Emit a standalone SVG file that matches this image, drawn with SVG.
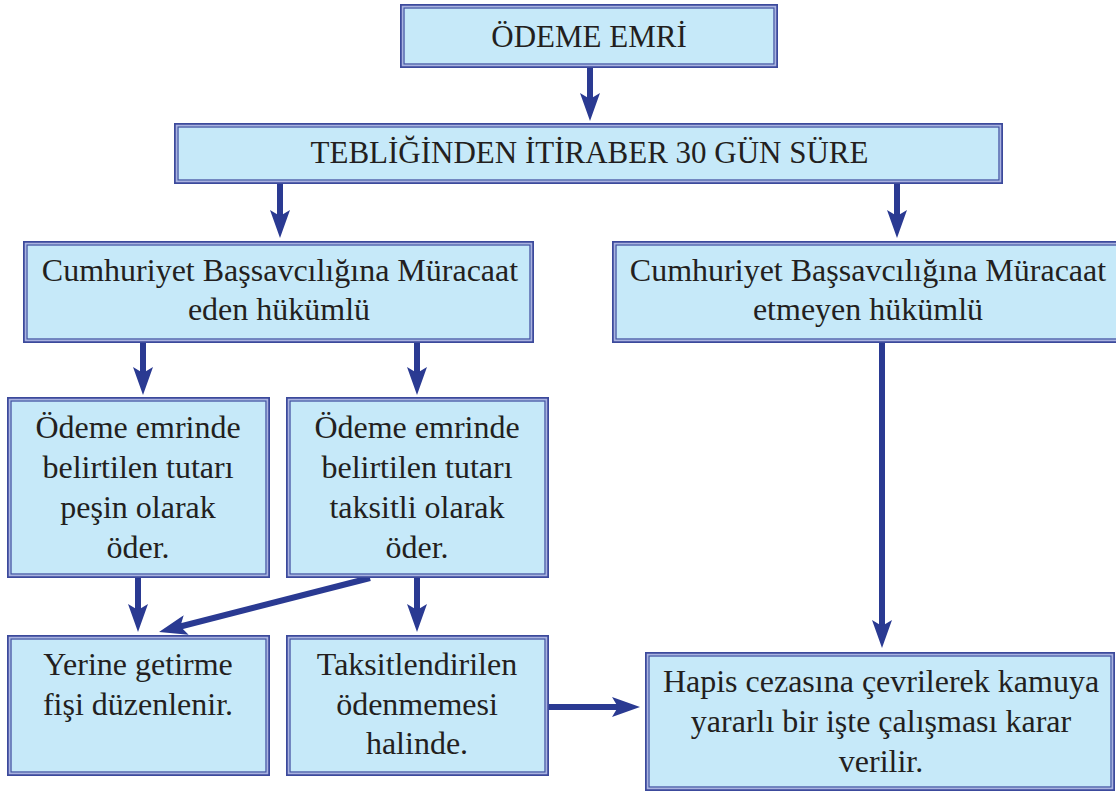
<svg xmlns="http://www.w3.org/2000/svg" width="1116" height="793" viewBox="0 0 1116 793" font-family="'Liberation Serif', Tinos, 'Times New Roman', serif">
<style>
.o{fill:#c6e9f9;stroke:#3c4a9c;stroke-width:2}
.m{fill:none;stroke:#aab2e0;stroke-width:1.5}
.i{fill:none;stroke:#4553a3;stroke-width:1.3}
text{font-family:'Liberation Serif',Tinos,serif;fill:#231f20;text-anchor:middle}
.h{font-size:31px}
.b{font-size:32px}
.c{stroke:#2a3a92;stroke-width:6;fill:none;marker-end:url(#ah)}
</style>
<defs>
<marker id="ah" markerUnits="userSpaceOnUse" markerWidth="28" markerHeight="20" viewBox="0 0 28 20" refX="8" refY="10" orient="auto">
<path d="M0,0 L28,10 L0,20 L6,10 z" fill="#2a3a92"/>
</marker>
</defs>
<rect width="1116" height="793" fill="#ffffff"/>
<g id="connectors">
<line class="c" x1="590" y1="68" x2="590" y2="101"/>
<line class="c" x1="280" y1="184" x2="280" y2="218"/>
<line class="c" x1="897" y1="184" x2="897" y2="218"/>
<line class="c" x1="143" y1="343" x2="143" y2="375"/>
<line class="c" x1="417" y1="343" x2="417" y2="375"/>
<line class="c" x1="138" y1="578" x2="138" y2="612"/>
<line class="c" x1="370" y1="578" x2="178.4" y2="627"/>
<line class="c" x1="417" y1="578" x2="417" y2="612"/>
<line class="c" x1="882" y1="343" x2="882" y2="628"/>
<line class="c" x1="549" y1="707" x2="620" y2="707"/>
</g>
<g id="n1">
<rect class="o" x="401" y="5" width="376" height="62"/><rect class="m" x="402.5" y="6.5" width="373" height="59"/><rect class="i" x="404" y="8" width="370" height="56"/>
<text class="h" x="589" y="47">ÖDEME EMRİ</text>
</g>
<g id="n2">
<rect class="o" x="175" y="124" width="827" height="59"/><rect class="m" x="176.5" y="125.5" width="824" height="56"/><rect class="i" x="178" y="127" width="821" height="53"/>
<text class="h" x="589.5" y="163">TEBLİĞİNDEN İTİRABER 30 GÜN SÜRE</text>
</g>
<g id="n3">
<rect class="o" x="24" y="242" width="509" height="100"/><rect class="m" x="25.5" y="243.5" width="506" height="97"/><rect class="i" x="27" y="245" width="503" height="94"/>
<text class="b" x="280" y="281">Cumhuriyet Başsavcılığına Müracaat</text>
<text class="b" x="279" y="320">eden hükümlü</text>
</g>
<g id="n4">
<rect class="o" x="613" y="242" width="510" height="100"/><rect class="m" x="614.5" y="243.5" width="507" height="97"/><rect class="i" x="616" y="245" width="504" height="94"/>
<text class="b" x="868" y="281">Cumhuriyet Başsavcılığına Müracaat</text>
<text class="b" x="868" y="320">etmeyen hükümlü</text>
</g>
<g id="n5">
<rect class="o" x="8" y="398" width="261" height="179"/><rect class="m" x="9.5" y="399.5" width="258" height="176"/><rect class="i" x="11" y="401" width="255" height="173"/>
<text class="b" x="138" y="438">Ödeme emrinde</text>
<text class="b" x="138" y="478">belirtilen tutarı</text>
<text class="b" x="138" y="518">peşin olarak</text>
<text class="b" x="138" y="558">öder.</text>
</g>
<g id="n6">
<rect class="o" x="287" y="398" width="261" height="179"/><rect class="m" x="288.5" y="399.5" width="258" height="176"/><rect class="i" x="290" y="401" width="255" height="173"/>
<text class="b" x="417" y="438">Ödeme emrinde</text>
<text class="b" x="417" y="478">belirtilen tutarı</text>
<text class="b" x="417" y="518">taksitli olarak</text>
<text class="b" x="417" y="558">öder.</text>
</g>
<g id="n7">
<rect class="o" x="8" y="636" width="261" height="139"/><rect class="m" x="9.5" y="637.5" width="258" height="136"/><rect class="i" x="11" y="639" width="255" height="133"/>
<text class="b" x="138" y="675">Yerine getirme</text>
<text class="b" x="138" y="715">fişi düzenlenir.</text>
</g>
<g id="n8">
<rect class="o" x="287" y="636" width="261" height="139"/><rect class="m" x="288.5" y="637.5" width="258" height="136"/><rect class="i" x="290" y="639" width="255" height="133"/>
<text class="b" x="417" y="675">Taksitlendirilen</text>
<text class="b" x="417" y="715">ödenmemesi</text>
<text class="b" x="417" y="754">halinde.</text>
</g>
<g id="n9">
<rect class="o" x="646" y="653" width="468" height="137"/><rect class="m" x="647.5" y="654.5" width="465" height="134"/><rect class="i" x="649" y="656" width="462" height="131"/>
<text class="b" x="881" y="692">Hapis cezasına çevrilerek kamuya</text>
<text class="b" x="881" y="732">yararlı bir işte çalışması karar</text>
<text class="b" x="881" y="772">verilir.</text>
</g>
</svg>
